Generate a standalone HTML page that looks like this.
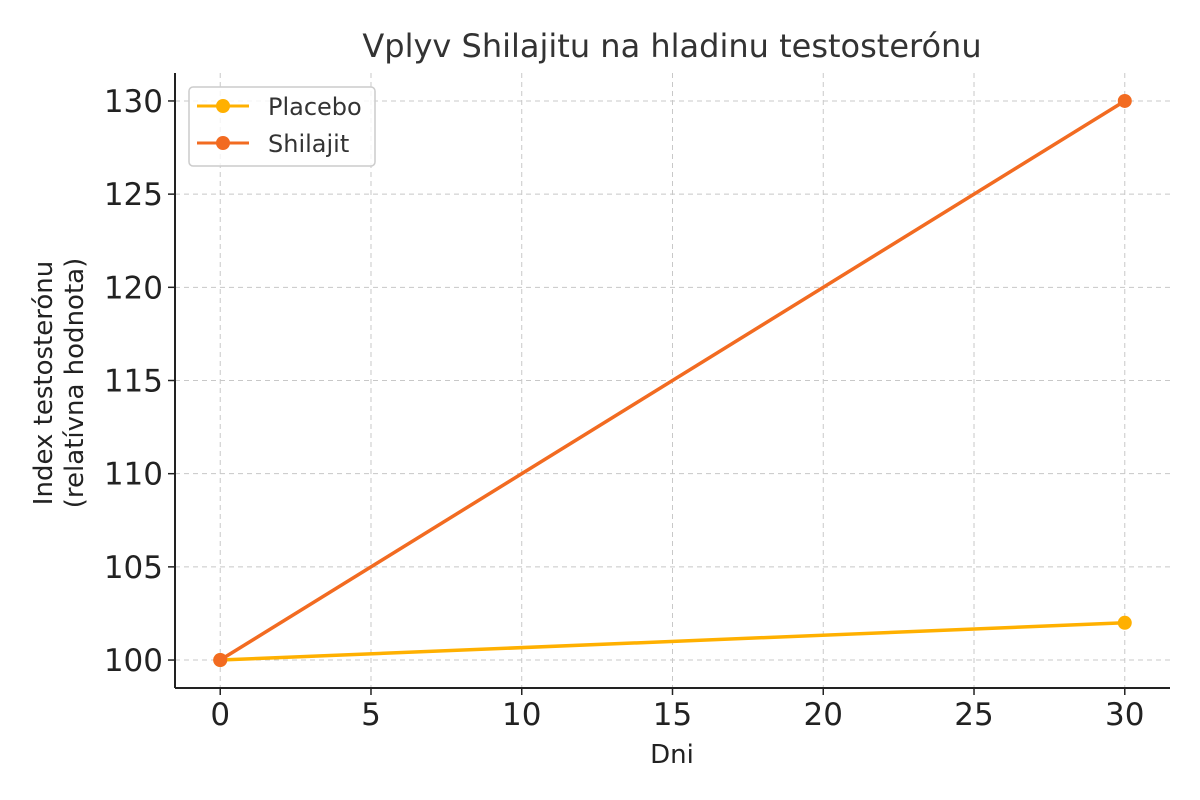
<!DOCTYPE html>
<html><head><meta charset="utf-8"><style>
body{margin:0;background:#fff;}
svg{display:block;font-family:"DejaVu Sans","Liberation Sans",sans-serif;}
</style></head><body>
<svg id="chart" width="1200" height="800">
<text x="672" y="57" font-size="32" text-anchor="middle" fill="#333">Vplyv Shilajitu na hladinu testosterónu</text>
<g id="grid"></g>
<g id="axes"></g>
<g id="series"></g>
<text x="672" y="763" font-size="26" text-anchor="middle" fill="#222">Dni</text>
<text transform="translate(52,383) rotate(-90)" font-size="26" text-anchor="middle" fill="#222"><tspan x="0" dy="0">Index testosterónu</tspan><tspan x="0" dy="31">(relatívna hodnota)</tspan></text>
<g>
<rect x="189" y="87" width="186" height="79" rx="4" fill="#fff" fill-opacity="0.8" stroke="#ccc" stroke-width="1.5"/>
<g>
<line x1="197" y1="106" x2="249" y2="106" stroke="#FFB000" stroke-width="3"/>
<circle cx="223" cy="106" r="7" fill="#FFB000"/>
<text x="268" y="115" font-size="24" fill="#333">Placebo</text></g>
<g>
<line x1="197" y1="143" x2="249" y2="143" stroke="#F26B21" stroke-width="3"/>
<circle cx="223" cy="143" r="7" fill="#F26B21"/>
<text x="268" y="152" font-size="24" fill="#333">Shilajit</text></g>
</g>
</svg>
<script>
const days=[0,30];
const placebo=[100,102];
const shilajit=[100,130];
const xTicks=[0,5,10,15,20,25,30];
const yTicks=[100,105,110,115,120,125,130];
const L=175,R=1170,T=73,B=688,x0=-1.5,x1=31.5,y0=98.5,y1=131.5;
const sx=v=>L+(v-x0)/(x1-x0)*(R-L);
const sy=v=>B-(v-y0)/(y1-y0)*(B-T);
const NS="http://www.w3.org/2000/svg";
function mk(p,t,a){const e=document.createElementNS(NS,t);for(const k in a)e.setAttribute(k,a[k]);p.appendChild(e);return e;}
const grid=document.getElementById('grid'),axes=document.getElementById('axes'),ser=document.getElementById('series');
xTicks.forEach(v=>{const l=mk(grid,'line',{x1:sx(v),x2:sx(v),y1:T,y2:B,stroke:'#c8c8c8','stroke-dasharray':'5,4','stroke-width':1});

mk(axes,'line',{x1:sx(v),x2:sx(v),y1:B,y2:B+7,stroke:'#222','stroke-width':1.5});
const t=mk(axes,'text',{x:sx(v),y:B+37,'font-size':31,'text-anchor':'middle',fill:'#222'});t.textContent=v;
});
yTicks.forEach(v=>{const l=mk(grid,'line',{x1:L,x2:R,y1:sy(v),y2:sy(v),stroke:'#c8c8c8','stroke-dasharray':'5,4','stroke-width':1});

mk(axes,'line',{x1:L-7,x2:L,y1:sy(v),y2:sy(v),stroke:'#222','stroke-width':1.5});
const t=mk(axes,'text',{x:L-12,y:sy(v)+11,'font-size':31,'text-anchor':'end',fill:'#222'});t.textContent=v;
});
const xa=mk(axes,'line',{x1:L,x2:R,y1:B,y2:B,stroke:'#222','stroke-width':2});

const ya=mk(axes,'line',{x1:L,x2:L,y1:T,y2:B,stroke:'#222','stroke-width':2});

[[placebo,'#FFB000','placebo'],[shilajit,'#F26B21','shilajit']].forEach(([d,c,n])=>{
const pl=mk(ser,'polyline',{points:d.map((v,i)=>sx(days[i])+','+sy(v)).join(' '),fill:'none',stroke:c,'stroke-width':3.5});

d.forEach((v,i)=>{const p=mk(ser,'circle',{cx:sx(days[i]),cy:sy(v),r:7,fill:c});
});});
</script>
</body></html>
